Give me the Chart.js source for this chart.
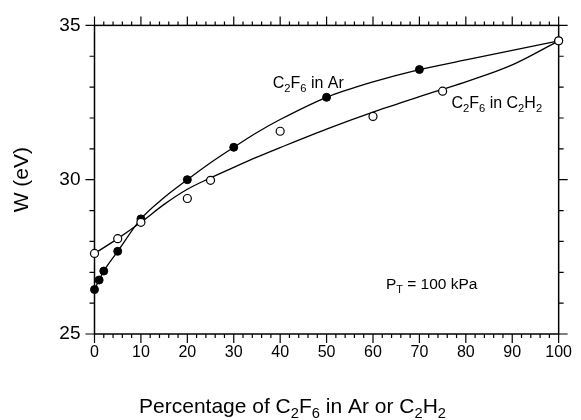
<!DOCTYPE html>
<html lang="en">
<head>
<meta charset="UTF-8">
<title>W (eV) - C2F6</title>
<script src="https://cdn.jsdelivr.net/npm/chart.js"></script>
<style>
    body { margin: 0; background: #fff; }
    #caixa { width: 581px; height: 420px; }
</style>
</head>
<body>
<div id="caixa"><canvas id="grafico"></canvas></div>
<script>
// pontos medidos - C2F6 em Ar (circulos cheios)
const pctAr = [0, 1, 2, 5, 10, 20, 30, 50, 70, 100];
const wAr = [26.44, 26.75, 27.04, 27.68, 28.73, 30.0, 31.05, 32.67, 33.57, 34.5];

// pontos medidos - C2F6 em C2H2 (circulos abertos)
const pctHid = [0, 5, 10, 20, 25, 40, 60, 75, 100];
const wHid = [27.61, 28.09, 28.62, 29.39, 29.98, 31.57, 32.05, 32.87, 34.5];

// curvas de ajuste
const ajustePctAr = [0, 1, 2, 5, 10, 15, 20, 25, 30, 35, 40, 50, 60, 70, 80, 90, 100];
const ajusteWAr = [26.44, 26.75, 27.04, 27.68, 28.73, 29.42, 30.0, 30.55, 31.05, 31.53, 31.95, 32.67, 33.17, 33.57, 33.88, 34.19, 34.5];

const ajustePctHid = [0, 5, 10, 15, 20, 25, 30, 35, 40, 50, 60, 70, 75, 80, 90, 100];
const ajusteWHid = [27.61, 28.09, 28.62, 29.2, 29.69, 30.06, 30.4, 30.73, 31.04, 31.64, 32.19, 32.69, 32.93, 33.17, 33.72, 34.5];

// rotulos do eixo
const ticksX = [0, 10, 20, 30, 40, 50, 60, 70, 80, 90, 100];
const ticksY = [25, 30, 35];

const fonte = '"Liberation Sans", Arial, Helvetica, sans-serif';
Chart.defaults.font.family = fonte;
Chart.defaults.color = '#000';

function pontos(xs, ys) {
    return xs.map((v, i) => ({ x: v, y: ys[i] }));
}

// "_" marca o proximo caractere como indice
function partesDe(txt) {
    let saida = [];
    let buf = '';
    for (let i = 0; i < txt.length; i++) {
        if (txt[i] === '_') {
            if (buf) saida.push([buf, false]);
            buf = '';
            saida.push([txt[i + 1], true]);
            i++;
        } else {
            buf += txt[i];
        }
    }
    if (buf) saida.push([buf, false]);
    return saida;
}

function larguraTexto(ctx, partes, tam) {
    let w = 0;
    partes.forEach(p => {
        ctx.font = (p[1] ? tam * 0.7 : tam) + 'px ' + fonte;
        w += ctx.measureText(p[0]).width;
    });
    return w;
}

function escreve(ctx, txt, x, yBase, tam) {
    const partes = partesDe(txt);
    ctx.textBaseline = 'alphabetic';
    ctx.textAlign = 'left';
    partes.forEach(p => {
        ctx.font = (p[1] ? tam * 0.7 : tam) + 'px ' + fonte;
        ctx.fillText(p[0], x, yBase + (p[1] ? tam * 0.24 : 0));
        x += ctx.measureText(p[0]).width;
    });
}

// anotacoes dentro do grafico (posicao em unidades dos eixos)
const anotacoes = [
    { texto: 'C_2F_6 in Ar', x: 38.4, y: 32.98, tam: 16 },
    { texto: 'C_2F_6 in C_2H_2', x: 76.9, y: 32.31, tam: 16 },
    { texto: 'P_T = 100 kPa', x: 62.8, y: 26.46, tam: 15.5 }
];
const tituloX = 'Percentage of C_2F_6 in Ar or C_2H_2';

// moldura com marcas maiores e menores
const moldura = {
    id: 'moldura',
    beforeDatasetsDraw(chart) {
        const { ctx, chartArea: a, scales: { x, y } } = chart;
        ctx.save();
        ctx.strokeStyle = '#000';
        ctx.lineWidth = 1.5;
        ctx.strokeRect(a.left, a.top, a.right - a.left, a.bottom - a.top);
        ctx.lineWidth = 1.2;
        ctx.beginPath();
        for (let v = x.min; v <= x.max; v += 2) {
            const px = x.getPixelForValue(v);
            const t = v % 10 === 0 ? 9 : 4;
            ctx.moveTo(px, a.bottom); ctx.lineTo(px, a.bottom + t);
            ctx.moveTo(px, a.top); ctx.lineTo(px, a.top - t);
        }
        for (let v = y.min; v <= y.max; v += 1) {
            const py = y.getPixelForValue(v);
            const t = v % 5 === 0 ? 9 : 5;
            ctx.moveTo(a.left, py); ctx.lineTo(a.left - t, py);
            ctx.moveTo(a.right, py); ctx.lineTo(a.right + t, py);
        }
        ctx.stroke();
        ctx.restore();
    }
};

const textos = {
    id: 'textos',
    afterDraw(chart) {
        const { ctx, scales: { x, y } } = chart;
        ctx.save();
        ctx.fillStyle = '#000';
        anotacoes.forEach(an => {
            escreve(ctx, an.texto, x.getPixelForValue(an.x), y.getPixelForValue(an.y), an.tam);
        });
        const tam = 21;
        const w = larguraTexto(ctx, partesDe(tituloX), tam);
        escreve(ctx, tituloX, chart.width / 2 + 2 - w / 2, 413, tam);
        ctx.restore();
    }
};

new Chart(document.getElementById('grafico'), {
    type: 'scatter',
    data: {
        datasets: [
            {
                label: 'C2F6 in C2H2',
                data: pontos(pctHid, wHid),
                showLine: false,
                pointRadius: 4,
                pointBackgroundColor: '#fff',
                pointBorderColor: '#000',
                pointBorderWidth: 1.2,
                order: 0,
                clip: false
            },
            {
                label: 'C2F6 in Ar',
                data: pontos(pctAr, wAr),
                showLine: false,
                pointRadius: 4,
                pointBackgroundColor: '#000',
                pointBorderColor: '#000',
                pointBorderWidth: 1,
                order: 1,
                clip: false
            },
            {
                label: 'ajuste Ar',
                data: pontos(ajustePctAr, ajusteWAr),
                showLine: true,
                borderColor: '#000',
                borderWidth: 1.3,
                pointRadius: 0,
                cubicInterpolationMode: 'monotone',
                order: 2,
                clip: false
            },
            {
                label: 'ajuste C2H2',
                data: pontos(ajustePctHid, ajusteWHid),
                showLine: true,
                borderColor: '#000',
                borderWidth: 1.3,
                pointRadius: 0,
                cubicInterpolationMode: 'monotone',
                order: 3,
                clip: false
            }
        ]
    },
    options: {
        animation: false,
        responsive: true,
        maintainAspectRatio: false,
        events: [],
        layout: { padding: { top: 22, right: 19, left: 0, bottom: 0 } },
        plugins: { legend: { display: false }, tooltip: { enabled: false } },
        scales: {
            x: {
                type: 'linear',
                min: ticksX[0],
                max: ticksX[ticksX.length - 1],
                grid: { display: false, drawTicks: false },
                border: { display: false },
                ticks: { stepSize: ticksX[1] - ticksX[0], padding: 9, font: { size: 16 } },
                afterFit(s) { s.height = 86; }
            },
            y: {
                min: ticksY[0],
                max: ticksY[ticksY.length - 1],
                grid: { display: false, drawTicks: false },
                border: { display: false },
                ticks: { stepSize: ticksY[1] - ticksY[0], padding: 14, font: { size: 19 } },
                title: { display: true, text: 'W (eV)', font: { size: 21 }, padding: { top: 10, bottom: 0 } },
                afterFit(s) { s.width = 94.5; }
            }
        }
    },
    plugins: [moldura, textos]
});
</script>
</body>
</html>
